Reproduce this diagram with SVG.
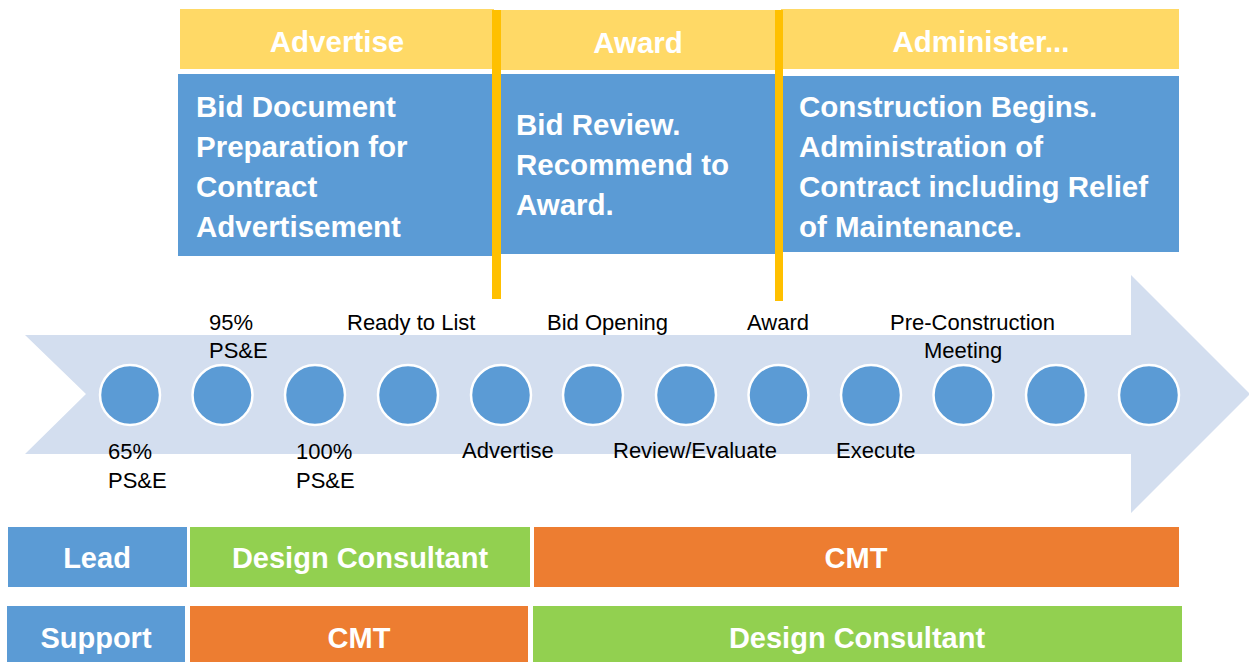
<svg xmlns="http://www.w3.org/2000/svg" width="1249" height="662" viewBox="0 0 1249 662">
<style>
.hdr{fill:#FFD966}
.box{fill:#5B9BD5}
.bt{font-family:"Liberation Sans",Arial,sans-serif;font-weight:bold;font-size:29.5px;fill:#FFFFFF}
.ht{font-family:"Liberation Sans",Arial,sans-serif;font-weight:bold;font-size:29.5px;fill:#FFFFFF;text-anchor:middle}
.rt{font-family:"Liberation Sans",Arial,sans-serif;font-weight:bold;font-size:29px;fill:#FFFFFF;text-anchor:middle}
.lbl{font-family:"Liberation Sans",Arial,sans-serif;font-size:22px;fill:#000000}
.dot{fill:#5B9BD5;stroke:#FFFFFF;stroke-width:2.5}
.div{fill:#FFC000}
.or{fill:#ED7D31}
.gr{fill:#92D050}
</style>
<rect width="1249" height="662" fill="#FFFFFF"/>
<g id="timeline-arrow">
<polygon points="25,335 1131,335 1131,275 1250,394 1131,513 1131,454 25,454 86,394" fill="#D3DEEF"/>
</g>
<g id="phase-advertise">
<rect class="hdr" x="180" y="9" width="314" height="60"/>
<text class="ht" x="337" y="52">Advertise</text>
<rect class="box" x="178" y="74" width="316" height="182"/>
<text class="bt" x="196" y="117">Bid Document</text>
<text class="bt" x="196" y="157">Preparation for</text>
<text class="bt" x="196" y="197">Contract</text>
<text class="bt" x="196" y="237">Advertisement</text>
</g>
<g id="phase-award">
<rect class="hdr" x="500" y="10" width="277" height="60"/>
<text class="ht" x="638" y="53">Award</text>
<rect class="box" x="500" y="74" width="277" height="180"/>
<text class="bt" x="516" y="135">Bid Review.</text>
<text class="bt" x="516" y="175">Recommend to</text>
<text class="bt" x="516" y="215">Award.</text>
</g>
<g id="phase-administer">
<rect class="hdr" x="781" y="9" width="398" height="60"/>
<text class="ht" x="981" y="52">Administer...</text>
<rect class="box" x="781" y="76" width="398" height="176"/>
<text class="bt" x="799" y="117">Construction Begins.</text>
<text class="bt" x="799" y="157">Administration of</text>
<text class="bt" x="799" y="197">Contract including Relief</text>
<text class="bt" x="799" y="237">of Maintenance.</text>
</g>
<g id="connectors">
<rect class="div" x="492" y="10" width="9" height="289"/>
<rect class="div" x="775" y="10" width="8" height="291"/>
</g>
<g id="milestones">
<g id="m1"><circle class="dot" cx="130" cy="395" r="30"/><text class="lbl" x="108" y="459">65%</text><text class="lbl" x="108" y="488">PS&amp;E</text></g>
<g id="m2"><circle class="dot" cx="222.5" cy="395" r="30"/><text class="lbl" x="209" y="330">95%</text><text class="lbl" x="209" y="358">PS&amp;E</text></g>
<g id="m3"><circle class="dot" cx="315" cy="395" r="30"/><text class="lbl" x="296" y="459">100%</text><text class="lbl" x="296" y="488">PS&amp;E</text></g>
<g id="m4"><circle class="dot" cx="408" cy="395" r="30"/><text class="lbl" x="347" y="330">Ready to List</text></g>
<g id="m5"><circle class="dot" cx="501" cy="395" r="30"/><text class="lbl" x="462" y="458">Advertise</text></g>
<g id="m6"><circle class="dot" cx="593" cy="395" r="30"/><text class="lbl" x="547" y="330">Bid Opening</text></g>
<g id="m7"><circle class="dot" cx="686" cy="395" r="30"/><text class="lbl" x="613" y="458">Review/Evaluate</text></g>
<g id="m8"><circle class="dot" cx="778.5" cy="395" r="30"/><text class="lbl" x="747" y="330">Award</text></g>
<g id="m9"><circle class="dot" cx="871" cy="395" r="30"/><text class="lbl" x="836" y="458">Execute</text></g>
<g id="m10"><circle class="dot" cx="963.5" cy="395" r="30"/><text class="lbl" x="890" y="330">Pre-Construction</text><text class="lbl" x="924" y="358">Meeting</text></g>
<g id="m11"><circle class="dot" cx="1056" cy="395" r="30"/></g>
<g id="m12"><circle class="dot" cx="1149" cy="395" r="30"/></g>
</g>
<g id="lead-row">
<rect class="box" x="8" y="527" width="179" height="60"/>
<text class="rt" x="97" y="568">Lead</text>
<rect class="gr" x="190" y="527" width="340" height="60"/>
<text class="rt" x="360" y="568">Design Consultant</text>
<rect class="or" x="534" y="527" width="645" height="60"/>
<text class="rt" x="856" y="568">CMT</text>
</g>
<g id="support-row">
<rect class="box" x="7" y="606" width="178" height="60"/>
<text class="rt" x="96" y="648">Support</text>
<rect class="or" x="190" y="606" width="338" height="60"/>
<text class="rt" x="359" y="648">CMT</text>
<rect class="gr" x="533" y="606" width="649" height="60"/>
<text class="rt" x="857" y="648">Design Consultant</text>
</g>
</svg>
